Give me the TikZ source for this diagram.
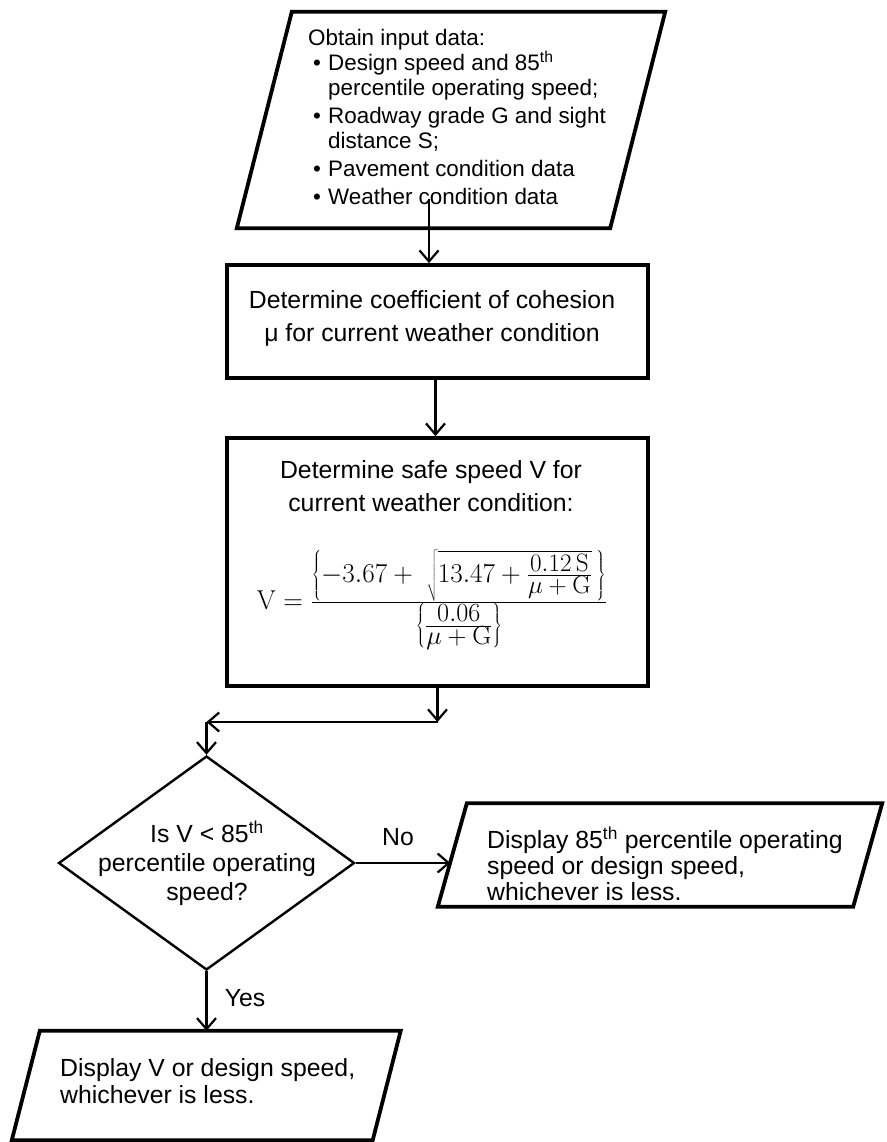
\RequirePackage{fix-cm}
\documentclass[tikz,border=0pt]{standalone}
\usepackage{fontspec}
\usepackage{graphicx}
\newfontfamily\arialfont{Liberation Sans}
\usetikzlibrary{arrows.meta,shapes.geometric}
% math set at a chosen size inside the formula
\newcommand\mathat[2]{\mbox{\fontsize{#1}{#1}\selectfont$#2$}}
% bullet item start and continuation indent
\newcommand\bul{\hspace*{5pt}\makebox[15pt][l]{•}}
\newcommand\cont{\hspace*{20pt}}

\begin{document}
\begin{tikzpicture}[x=1pt,y=-1pt,
  txt/.style={font=\arialfont\fontsize{24.8}{29}\selectfont, text=black, inner sep=0pt},
  shell/.style={draw=none, inner sep=0pt},
  box/.style={draw, line width=3.8pt, minimum width=421pt, inner sep=0pt},
  para/.style={line width=3.8pt, line join=miter},
  flow/.style={line width=2.2pt, -{Straight Barb[length=11pt,width=19pt,line width=2.2pt]}},
  lbl/.style={font=\arialfont\fontsize{24.8}{29}\selectfont, text=black, inner sep=0pt}
]
\useasboundingbox (0,0) rectangle (886,1142);

% input data parallelogram
\node[shell, minimum width=373pt, minimum height=216pt] (in) at (451,120) {};
\draw[para] ([xshift=27.5pt]in.north west) -- ([xshift=27.5pt]in.north east)
  -- ([xshift=-27.5pt]in.south east) -- ([xshift=-27.5pt]in.south west) -- cycle;
\node[txt, font=\arialfont\fontsize{22.4}{25}\selectfont, align=left, anchor=west] (intext) at (308,117)
  {Obtain input data:\\
   \bul Design speed and 85\textsuperscript{th}\\
   \cont percentile operating speed;\\[3pt]
   \bul Roadway grade G and sight\\
   \cont distance S;\\[3pt]
   \bul Pavement condition data\\[3pt]
   \bul Weather condition data};

% coefficient of cohesion
\node[box, minimum height=113pt] (b2) at (437.5,321.5) {};
\node[txt, align=center, font=\arialfont\fontsize{24.8}{33}\selectfont] (b2text) at (432,318.5)
  {Determine coefficient of cohesion\\ μ for current weather condition};

% safe speed
\node[box, minimum height=248pt] (b3) at (437.5,562) {};
\node[txt, align=center, font=\arialfont\fontsize{24.8}{33}\selectfont] (b3text) at (431,486.5)
  {Determine safe speed V for\\ current weather condition:};
\node[inner sep=0pt, font=\fontsize{26}{30}\selectfont] (eq) at (432,600)
  {\resizebox{350pt}{!}{$\displaystyle \mathrm{V} = \frac{\left\{-3.67 + \;\sqrt{13.47+\frac{\mathat{24}{0.12\,\mathrm{S}}}{\mathat{24}{\mu+\mathrm{G}}}}\,\right\}}{\left\{\frac{\mathat{25}{0.06}}{\mathat{25}{\mu+\mathrm{G}}}\right\}}$}};

% decision
\node[diamond, draw, line width=2.4pt, minimum width=296pt, minimum height=214pt, inner sep=0pt] (dec) at (206.5,863) {};
\node[txt, align=center] (dectext) at (207,863)
  {Is V < 85\textsuperscript{th}\\ percentile operating\\ speed?};

% output when not below
\node[shell, minimum width=415pt, minimum height=103pt] (rp) at (660,855) {};
\draw[para] ([xshift=14.5pt]rp.north west) -- ([xshift=14.5pt]rp.north east)
  -- ([xshift=-14.5pt]rp.south east) -- ([xshift=-14.5pt]rp.south west) -- cycle;
\node[txt, align=left, anchor=west, font=\arialfont\fontsize{24.8}{26}\selectfont] (rptext) at (487,864)
  {Display 85\textsuperscript{th} percentile operating\\ speed or design speed,\\ whichever is less.};

% output when below
\node[shell, minimum width=360.5pt, minimum height=109pt] (bp) at (206.25,1085.5) {};
\draw[para] ([xshift=14pt]bp.north west) -- ([xshift=14pt]bp.north east)
  -- ([xshift=-14pt]bp.south east) -- ([xshift=-14pt]bp.south west) -- cycle;
\node[txt, align=left, anchor=west, font=\arialfont\fontsize{24.8}{27}\selectfont] (bptext) at (60,1081.5)
  {Display V or design speed,\\ whichever is less.};

% connectors
\coordinate (inexit) at (429,199);
\coordinate (j1) at (437.5,722);
\coordinate (j2) at (206.5,722);
\draw[flow] (inexit) -- (inexit |- b2.north);
\draw[flow] ([xshift=-2pt]b2.south) -- ([xshift=-2pt]b3.north);
\draw[flow] (b3.south) -- (j1);
\draw[flow] (j1) -- (j2);
\draw[flow] (j2) -- (dec.north);
\draw[flow] (dec.east) -- ([xshift=-2pt]dec.east -| rp.west);
\draw[flow] (dec.south) -- (dec.south |- bp.north);

\node[lbl] (no) at (398,837) {No};
\node[lbl] (yes) at (245,998) {Yes};
\end{tikzpicture}
\end{document}
